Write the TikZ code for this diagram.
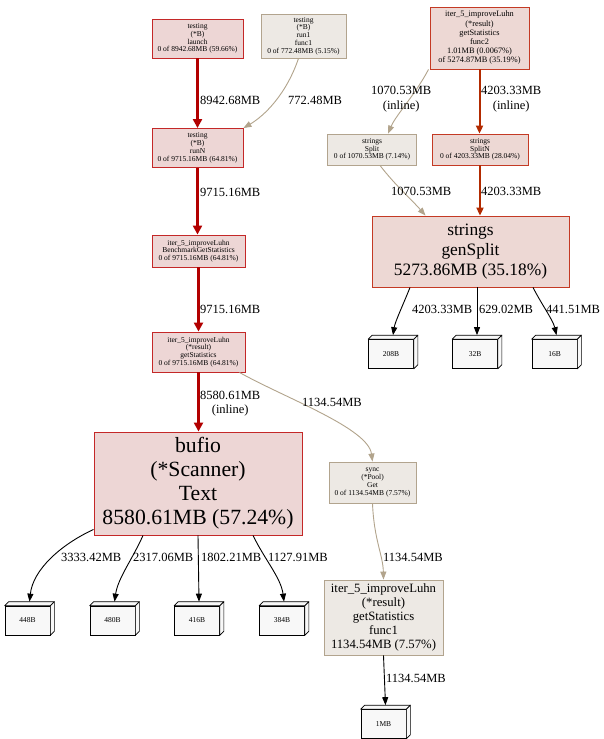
\documentclass[tikz,border=0pt]{standalone}
\usepackage{fontspec}
\setmainfont{Liberation Serif}
\usetikzlibrary{arrows.meta}
\definecolor{hotfill}{HTML}{EDD6D5}
\definecolor{hotline}{HTML}{C42828}
\definecolor{warmfill}{HTML}{EDD8D4}
\definecolor{warmline}{HTML}{C43A24}
\definecolor{tanfill}{HTML}{EDE9E4}
\definecolor{tanline}{HTML}{B2A48E}
\definecolor{redge}{HTML}{B20000}
\definecolor{oredge}{HTML}{B22A00}
\definecolor{tedge}{HTML}{B2A48C}
\definecolor{leaffill}{HTML}{F8F8F8}
\begin{document}
\begin{tikzpicture}[x=1pt,y=-1pt,
  box/.style={draw, align=center, inner sep=0pt, line width=0.9pt},
  hot/.style={box, draw=hotline, fill=hotfill},
  warm/.style={box, draw=warmline, fill=warmfill},
  mild/.style={box, draw=tanline, fill=tanfill},
  sm/.style={font=\fontsize{7.5}{7.8}\selectfont},
  lbl/.style={font=\fontsize{12.5}{14.5}\selectfont, inner sep=0pt, anchor=west, align=center},
  leaf/.style={draw=black, fill=leaffill, minimum width=45pt, minimum height=29pt, inner sep=0pt, font=\fontsize{7.5}{8}\selectfont, line width=0.7pt},
  face/.style={draw=black, fill=leaffill, line width=0.7pt, line join=round},
  bigred/.style={draw=redge, line width=3.6pt, -{Triangle[length=9pt,width=9pt]}},
  midred/.style={draw=oredge, line width=2pt, -{Triangle[length=8pt,width=7pt]}},
  tanedge/.style={draw=tedge, line width=0.9pt, -{Triangle[length=8pt,width=6pt]}},
  blk/.style={draw=black, line width=0.9pt, -{Triangle[length=8pt,width=6pt]}}
]
\useasboundingbox (0,0) rectangle (603,739);
\fill[white] (0,0) rectangle (603,739);

% nodes
\node[hot, sm, minimum width=91pt, minimum height=39pt] (launch) at (197.5,38.5)
  {testing\\(*B)\\launch\\0 of 8942.68MB (59.66\%)};
\node[mild, sm, minimum width=85pt, minimum height=44pt] (run1) at (303.5,36)
  {testing\\(*B)\\run1\\func1\\0 of 772.48MB (5.15\%)};
\node[warm, font=\fontsize{8.3}{9.2}\selectfont, minimum width=99pt, minimum height=62pt] (func2) at (479.5,38)
  {iter\_5\_improveLuhn\\(*result)\\getStatistics\\func2\\1.01MB (0.0067\%)\\of 5274.87MB (35.19\%)};
\node[hot, sm, minimum width=91pt, minimum height=39pt] (runN) at (197.5,148)
  {testing\\(*B)\\runN\\0 of 9715.16MB (64.81\%)};
\node[mild, sm, minimum width=89pt, minimum height=31pt] (split) at (372,149.5)
  {strings\\Split\\0 of 1070.53MB (7.14\%)};
\node[warm, sm, minimum width=96pt, minimum height=31pt] (splitn) at (480,149.5)
  {strings\\SplitN\\0 of 4203.33MB (28.04\%)};
\node[warm, font=\fontsize{17.4}{20}\selectfont, minimum width=197pt, minimum height=71pt] (gensplit) at (470.5,251.5)
  {strings\\genSplit\\5273.86MB (35.18\%)};
\node[hot, sm, minimum width=93pt, minimum height=32pt] (bench) at (198.5,251)
  {iter\_5\_improveLuhn\\BenchmarkGetStatistics\\0 of 9715.16MB (64.81\%)};
\node[hot, sm, minimum width=93pt, minimum height=40pt] (getstat) at (198.5,352)
  {iter\_5\_improveLuhn\\(*result)\\getStatistics\\0 of 9715.16MB (64.81\%)};
\node[hot, font=\fontsize{21.7}{24}\selectfont, minimum width=208pt, minimum height=103pt] (bufio) at (198,483.5)
  {bufio\\(*Scanner)\\Text\\8580.61MB (57.24\%)};
\node[mild, sm, minimum width=87pt, minimum height=41pt] (sync) at (372.5,482.5)
  {sync\\(*Pool)\\Get\\0 of 1134.54MB (7.57\%)};
\node[mild, font=\fontsize{12.7}{13.8}\selectfont, minimum width=119pt, minimum height=75pt] (func1) at (383.5,617.5)
  {iter\_5\_improveLuhn\\(*result)\\getStatistics\\func1\\1134.54MB (7.57\%)};

% leaf boxes
\node[leaf] (l448) at (27.5,620.5) {448B};
\node[leaf] (l480) at (112.5,620.5) {480B};
\node[leaf] (l416) at (197,620.5) {416B};
\node[leaf] (l384) at (282,620.5) {384B};
\node[leaf] (l208) at (391,354) {208B};
\node[leaf] (l32) at (475,354) {32B};
\node[leaf] (l16) at (554.5,354) {16B};
\node[leaf] (l1mb) at (383.5,724) {1MB};
\foreach \n in {l448,l480,l416,l384,l208,l32,l16,l1mb}{
  \path[face] (\n.north west) -- ++(4,-4) -- ([xshift=4pt,yshift=4pt]\n.north east) -- (\n.north east) -- cycle;
  \path[face] (\n.north east) -- ++(4,-4) -- ([xshift=4pt,yshift=4pt]\n.south east) -- (\n.south east) -- cycle;
}

% edges
\draw[bigred] (launch) -- (runN);
\draw[tanedge] ([xshift=-5pt]run1.south) .. controls (286,95) and (264,116) .. (runN.north east);
\draw[bigred] (runN.south) -- (runN.south |- bench.north);
\draw[bigred] (bench) -- (getstat);
\draw[bigred] (getstat.south) -- (getstat.south |- bufio.north);
\draw[tanedge] ([xshift=-6pt]getstat.south east) .. controls (285,398) and (368,428) .. (sync.north);
\draw[tanedge] (sync.south) .. controls (374,540) and (383,555) .. (func1.north);
\draw[blk] (func1.south) -- ([xshift=2pt,yshift=4pt]l1mb.north);

\draw[blk] ([yshift=6pt]bufio.south west) .. controls (60,545) and (33,570) .. ([xshift=2pt,yshift=4pt]l448.north);
\draw[blk] ([xshift=-55pt]bufio.south) .. controls (132,560) and (118,578) .. ([xshift=2pt,yshift=4pt]l480.north);
\draw[blk] (bufio.south) -- ([xshift=2pt,yshift=4pt]l416.north);
\draw[blk] ([xshift=55pt]bufio.south) .. controls (265,560) and (281,578) .. ([xshift=2pt,yshift=4pt]l384.north);

\draw[tanedge] ([xshift=-51pt]func2.south) .. controls (415,95) and (396,115) .. ([xshift=16pt]split.north);
\draw[midred] (func2.south) -- (func2.south |- splitn.north);
\draw[tanedge] ([xshift=8pt]split.south) .. controls (395,185) and (412,200) .. ([xshift=-45pt]gensplit.north);
\draw[midred] (splitn.south) -- (splitn.south |- gensplit.north);

\draw[blk] ([xshift=-60.5pt]gensplit.south) .. controls (403,305) and (395,322) .. ([xshift=2pt,yshift=4pt]l208.north);
\draw[blk] ([xshift=6.5pt]gensplit.south) -- ([xshift=2pt,yshift=4pt]l32.north);
\draw[blk] ([xshift=62.5pt]gensplit.south) .. controls (542,305) and (553,320) .. ([xshift=2pt,yshift=4pt]l16.north);

% edge labels
\node[lbl] (t1) at (200,100) {8942.68MB};
\node[lbl] (t2) at (288,100) {772.48MB};
\node[lbl] (t3) at (200,192) {9715.16MB};
\node[lbl] (t4) at (200,309) {9715.16MB};
\node[lbl] (t5) at (200,403.5) {8580.61MB\\(inline)};
\node[lbl] (t6) at (302,402) {1134.54MB};
\node[lbl] (t7) at (383,557) {1134.54MB};
\node[lbl] (t8) at (386,678) {1134.54MB};
\node[lbl] (t9) at (61,557) {3333.42MB};
\node[lbl] (t10) at (133,557) {2317.06MB};
\node[lbl] (t11) at (201,557) {1802.21MB};
\node[lbl] (t12) at (268,557) {1127.91MB};
\node[lbl] (t13) at (371,99) {1070.53MB\\(inline)};
\node[lbl] (t14) at (481,99) {4203.33MB\\(inline)};
\node[lbl] (t15) at (391,191) {1070.53MB};
\node[lbl] (t16) at (481,191) {4203.33MB};
\node[lbl] (t17) at (412,309) {4203.33MB};
\node[lbl] (t18) at (479,309) {629.02MB};
\node[lbl] (t19) at (546,309) {441.51MB};
\end{tikzpicture}
\end{document}
